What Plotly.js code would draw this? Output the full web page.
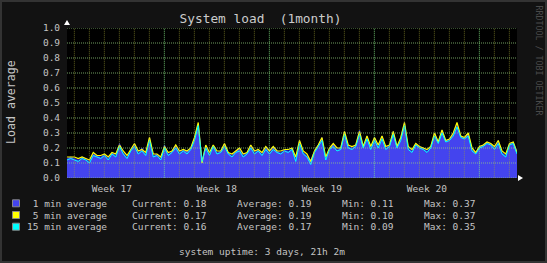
<!DOCTYPE html>
<html><head><meta charset="utf-8">
<script src="https://cdn.plot.ly/plotly-3.0.1.min.js"></script>
<style>html,body{margin:0;padding:0;background:#121212;overflow:hidden;} #chart{width:547px;height:263px;}</style>
</head><body><div id="chart"></div>
<script>
// ---- data (days since start of graph, sample every 0.25 day) ----
const sampleStepDays = 0.25;
const load1 = [0.13,0.14,0.13,0.12,0.14,0.13,0.11,0.16,0.15,0.14,0.16,0.13,0.17,0.15,0.23,0.17,0.14,0.19,0.23,0.17,
0.20,0.16,0.27,0.15,0.16,0.13,0.22,0.16,0.18,0.22,0.17,0.19,0.18,0.20,0.27,0.36,0.12,0.22,0.16,0.22,
0.17,0.18,0.23,0.17,0.15,0.18,0.20,0.15,0.17,0.22,0.17,0.19,0.16,0.21,0.17,0.21,0.18,0.17,0.19,0.18,
0.20,0.13,0.25,0.17,0.15,0.12,0.18,0.22,0.27,0.13,0.20,0.23,0.19,0.20,0.31,0.21,0.20,0.22,0.32,0.21,
0.28,0.20,0.27,0.21,0.28,0.20,0.22,0.31,0.21,0.27,0.37,0.20,0.18,0.23,0.21,0.20,0.18,0.21,0.30,0.24,
0.32,0.25,0.26,0.30,0.36,0.28,0.27,0.30,0.19,0.17,0.21,0.22,0.24,0.23,0.20,0.25,0.17,0.15,0.23,0.24,0.18];
const load5 = [0.14,0.14,0.14,0.13,0.14,0.13,0.12,0.17,0.15,0.15,0.16,0.14,0.17,0.16,0.22,0.18,0.15,0.19,0.23,0.18,
0.19,0.17,0.27,0.16,0.16,0.14,0.21,0.17,0.18,0.22,0.18,0.19,0.18,0.20,0.27,0.37,0.10,0.22,0.17,0.22,
0.18,0.18,0.23,0.17,0.16,0.18,0.20,0.16,0.17,0.22,0.18,0.19,0.17,0.21,0.18,0.21,0.18,0.18,0.19,0.19,
0.20,0.14,0.25,0.18,0.16,0.11,0.18,0.22,0.27,0.14,0.20,0.23,0.20,0.20,0.31,0.22,0.21,0.22,0.31,0.21,
0.28,0.21,0.27,0.22,0.28,0.21,0.22,0.31,0.21,0.27,0.37,0.21,0.19,0.23,0.21,0.20,0.19,0.21,0.30,0.24,
0.32,0.25,0.26,0.30,0.37,0.28,0.27,0.30,0.20,0.17,0.21,0.22,0.24,0.23,0.21,0.25,0.18,0.16,0.23,0.24,0.17];
const load15 = [0.12,0.13,0.12,0.11,0.13,0.12,0.10,0.15,0.14,0.13,0.15,0.12,0.16,0.14,0.21,0.16,0.13,0.18,0.21,0.16,
0.18,0.15,0.25,0.14,0.15,0.12,0.20,0.15,0.17,0.20,0.16,0.18,0.16,0.19,0.25,0.35,0.11,0.20,0.15,0.21,
0.16,0.17,0.21,0.16,0.14,0.17,0.18,0.14,0.16,0.20,0.16,0.18,0.15,0.19,0.16,0.19,0.17,0.16,0.18,0.17,
0.19,0.11,0.23,0.16,0.14,0.09,0.17,0.21,0.25,0.12,0.19,0.21,0.18,0.19,0.29,0.20,0.19,0.21,0.29,0.20,
0.26,0.19,0.25,0.20,0.26,0.19,0.21,0.29,0.20,0.25,0.35,0.19,0.17,0.22,0.20,0.19,0.17,0.20,0.28,0.23,
0.30,0.24,0.25,0.28,0.34,0.27,0.26,0.28,0.18,0.16,0.20,0.21,0.23,0.22,0.19,0.23,0.16,0.14,0.22,0.23,0.16];

const weekLabels = ['Week 17','Week 18','Week 19','Week 20'];
const weekCenters = [2.99, 9.99, 16.99, 23.99];
const weekStarts = [6.49, 13.49, 20.49, 27.49];
const firstDayLine = 0.49;
const yTickVals = [0,0.1,0.2,0.3,0.4,0.5,0.6,0.7,0.8,0.9,1.0];

const legendNames = ['\u00a01 min average','\u00a05 min average','15 min average'];
const legendColors = ['#4444ee','#ffff00','#00ffff'];
const currentVals = ['0.18','0.17','0.16'];
const averageVals = ['0.19','0.19','0.17'];
const minVals = ['0.11','0.10','0.09'];
const maxVals = ['0.37','0.37','0.35'];

const titleText = 'System load\u00a0 (1month)';
const yTitleText = 'Load average';
const footerText = 'system uptime: 3 days, 21h 2m';
const sideText = 'RRDTOOL / TOBI OETIKER';

// ---- layout helpers ----
const W = 547, H = 263, L = 67, R = 517, T = 28, B = 178;
const fx = px => (px - L) / (R - L);
const fy = py => (B - py) / (B - T);
const MONO = 'DejaVu Sans Mono, monospace';
const TXT = '#c4c4c4';

const days = load1.map((_, i) => i * sampleStepDays);
const xMax = 30;

const traces = [
  {x: days, y: load1, type: 'scatter', mode: 'lines', fill: 'tozeroy',
   fillcolor: '#4444ee', line: {color: '#2222cc', width: 1}},
  {x: days, y: load5, type: 'scatter', mode: 'lines', line: {color: '#ffff00', width: 1.2}},
  {x: days, y: load15, type: 'scatter', mode: 'lines', line: {color: '#00ffff', width: 1}}
];

const shapes = [];
// horizontal grid
yTickVals.forEach(v => shapes.push({type: 'line', xref: 'x', yref: 'y', x0: 0, x1: xMax, y0: v, y1: v,
  layer: 'above', line: {color: 'rgba(150,210,130,0.75)', width: 1, dash: '1px,1px'}}));
// daily grid
for (let d = firstDayLine; d < xMax; d += 1) {
  const major = weekStarts.some(w => Math.abs(w - d) < 0.05);
  shapes.push({type: 'line', xref: 'x', yref: 'y', x0: d, x1: d, y0: -0.015, y1: 1.015, layer: 'above',
    line: {color: major ? 'rgba(130,230,130,0.8)' : 'rgba(160,160,50,0.6)', width: 1, dash: '1px,1px'}});
}
// outer frame
shapes.push({type: 'rect', xref: 'paper', yref: 'paper', x0: fx(0), x1: fx(W), y0: fy(H), y1: fy(0),
  line: {color: '#333333', width: 4}, layer: 'below'});
// axis arrows
const tri = pts => 'M ' + pts.map(p => fx(p[0]) + ' ' + fy(p[1])).join(' L ') + ' Z';
shapes.push({type: 'path', xref: 'paper', yref: 'paper', path: tri([[64,25],[70,25],[67,20]]),
  fillcolor: '#ffffff', line: {width: 0}});
shapes.push({type: 'path', xref: 'paper', yref: 'paper', path: tri([[518,175],[518,181],[523,178]]),
  fillcolor: '#ffffff', line: {width: 0}});

const annotations = [];
const ann = (text, px, py, opts) => annotations.push(Object.assign({text, xref: 'paper', yref: 'paper',
  x: fx(px), y: fy(py), showarrow: false, xanchor: 'left', yanchor: 'middle',
  font: {family: MONO, size: 9.5, color: TXT}}, opts || {}));

ann(yTitleText, 11, 102, {textangle: -90, xanchor: 'center', font: {family: MONO, size: 11.6, color: TXT}});
ann(sideText, 538.5, 60, {textangle: 90, xanchor: 'center', font: {family: MONO, size: 8.3, color: '#4a4a4a'}});
ann(footerText, 262, 251, {xanchor: 'center'});

const rowY = [203.3, 215, 226.7];
legendNames.forEach((name, i) => {
  const y = rowY[i];
  shapes.push({type: 'rect', xref: 'paper', yref: 'paper', x0: fx(12.5), x1: fx(19.5), y0: fy(y + 3.5), y1: fy(y - 3.5),
    fillcolor: legendColors[i], line: {color: '#888888', width: 1}});
  ann(name, 25.3, y);
  ann('Current: ' + currentVals[i], 130, y);
  ann('Average: ' + averageVals[i], 235, y);
  ann('Min: ' + minVals[i], 340, y);
  ann('Max: ' + maxVals[i], 422.3, y);
});

const layout = {
  width: W, height: H,
  margin: {l: L, r: W - R, t: T, b: H - B, pad: 0},
  paper_bgcolor: '#121212', plot_bgcolor: '#000000',
  showlegend: false, hovermode: false,
  title: {text: titleText, x: 260.5 / W, xref: 'container', xanchor: 'center',
    y: 1 - 19 / H, yref: 'container', yanchor: 'middle',
    font: {family: MONO, size: 12.8, color: '#cccccc'}},
  xaxis: {range: [0, xMax], tickmode: 'array', tickvals: weekCenters, ticktext: weekLabels,
    showgrid: false, zeroline: false, showline: false, ticks: 'outside', ticklen: 2,
    tickcolor: 'rgba(0,0,0,0)', fixedrange: true,
    tickfont: {family: MONO, size: 9.5, color: TXT}},
  yaxis: {range: [0, 1], tickmode: 'array', tickvals: yTickVals, tickformat: '.1f',
    showgrid: false, zeroline: false, showline: false, ticks: 'outside', ticklen: 4,
    tickcolor: 'rgba(0,0,0,0)', fixedrange: true,
    tickfont: {family: MONO, size: 9.5, color: TXT}},
  shapes, annotations
};

Plotly.newPlot('chart', traces, layout, {staticPlot: true, displayModeBar: false});
</script>
</body></html>
